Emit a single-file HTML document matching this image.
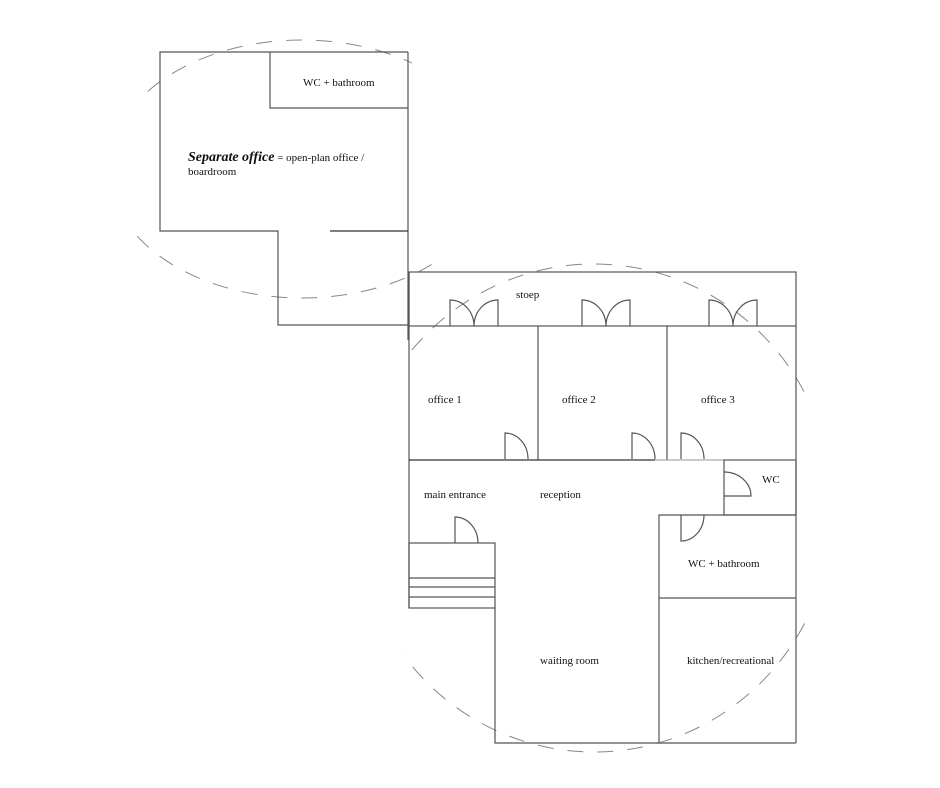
<!DOCTYPE html>
<html><head><style>
html,body{margin:0;padding:0;background:#fff;}
svg{display:block;}
text{font-family:"Liberation Serif",serif;font-size:11px;fill:#111;}
</style></head><body>
<svg width="940" height="788" viewBox="0 0 940 788" xmlns="http://www.w3.org/2000/svg">
<defs>
<clipPath id="c1">
<rect x="0" y="0" width="412" height="80"/>
<rect x="0" y="235" width="440" height="100"/>
<rect x="140" y="0" width="268" height="340"/>
</clipPath>
<clipPath id="c2">
<rect x="404" y="0" width="406" height="788"/>
</clipPath>
</defs>
<g fill="none" stroke="#888" stroke-width="1" stroke-dasharray="16,14">
<ellipse cx="302" cy="169" rx="193" ry="129" clip-path="url(#c1)"/>
<ellipse cx="594" cy="508" rx="239" ry="244" clip-path="url(#c2)"/>
</g>
<g fill="none" stroke="#555" stroke-width="1.2">
<polyline points="408,52 160,52 160,231 278,231 278,325 408,325"/>
<line x1="408" y1="52" x2="408" y2="340"/>
<polyline points="270,52 270,108 408,108"/>
<line x1="330" y1="231" x2="408" y2="231" stroke="#333"/>
<rect x="409" y="272" width="387" height="54"/>
<line x1="409" y1="272" x2="409" y2="608"/>
<line x1="796" y1="326" x2="796" y2="743"/>
<line x1="538" y1="326" x2="538" y2="460"/>
<line x1="667" y1="326" x2="667" y2="460"/>
<line x1="409" y1="460" x2="655" y2="460" stroke="#333"/>
<line x1="655" y1="460" x2="724" y2="460" stroke="#aaa"/>
<rect x="724" y="460" width="72" height="55"/>
<polyline points="659,743 659,515 796,515"/>
<line x1="659" y1="598" x2="796" y2="598"/>
<polyline points="495,608 495,743 796,743"/>
<rect x="409" y="543" width="86" height="65"/>
<line x1="409" y1="578" x2="495" y2="578"/>
<line x1="409" y1="587" x2="495" y2="587"/>
<line x1="409" y1="597" x2="495" y2="597"/>
<path d="M505,459 V433 A23,26 0 0 1 528,459"/>
<path d="M632,459 V433 A23,26 0 0 1 655,459"/>
<path d="M681,459 V433 A23,26 0 0 1 704,459"/>
<path d="M455,543 V517 A23,26 0 0 1 478,543"/>
<path d="M724,472 A27,24 0 0 1 751,496 H724"/>
<path d="M681,515 V541 A23,26 0 0 0 704,515"/>
<path d="M450,326 V300 A24,26 0 0 1 474,326 A24,26 0 0 1 498,300 V326"/>
<path d="M582,326 V300 A24,26 0 0 1 606,326 A24,26 0 0 1 630,300 V326"/>
<path d="M709,326 V300 A24,26 0 0 1 733,326 A24,26 0 0 1 757,300 V326"/>
</g>
<text x="303" y="86">WC + bathroom</text>
<text x="188" y="161"><tspan font-weight="bold" font-style="italic" font-size="14">Separate office</tspan> = open-plan office /</text>
<text x="188" y="175">boardroom</text>
<text x="516" y="298">stoep</text>
<text x="428" y="403">office 1</text>
<text x="562" y="403">office 2</text>
<text x="701" y="403">office 3</text>
<text x="762" y="483">WC</text>
<text x="424" y="498">main entrance</text>
<text x="540" y="498">reception</text>
<text x="688" y="567">WC + bathroom</text>
<text x="540" y="664">waiting room</text>
<text x="687" y="664">kitchen/recreational</text>
</svg>
</body></html>
